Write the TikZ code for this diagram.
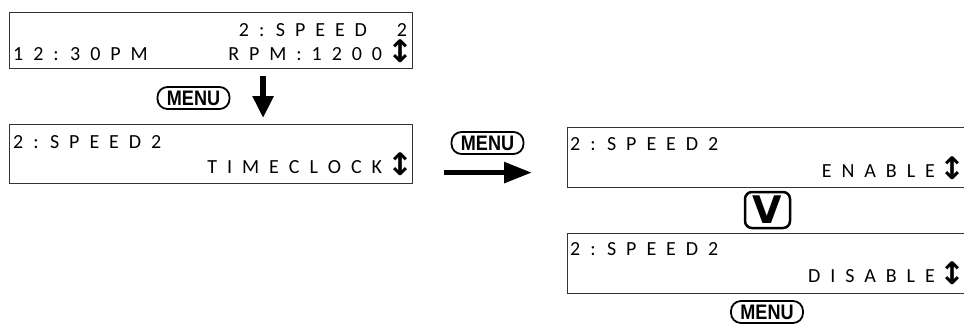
\documentclass[tikz,border=0pt]{standalone}
\usepackage{fontspec}
\usepackage{graphicx}
\usetikzlibrary{arrows.meta,calc}
\newfontfamily\lcdfont[WordSpace=2.2]{Carlito}
\newfontfamily\keyfont{Liberation Sans}
\newfontfamily\symfont{DejaVu Sans}
\newcommand{\updown}{\kern-5pt{\symfont\bfseries\fontsize{31}{31}\selectfont\raisebox{-2pt}{↕}}\kern-4pt}

\begin{document}
\begin{tikzpicture}[x=1pt, y=-1pt,
    lcd/.style={draw=black!80, line width=1.2pt, anchor=north west, inner sep=0pt},
    row/.style={font=\lcdfont\fontsize{20}{24}\selectfont, inner sep=0pt},
    menukey/.style={draw, line width=1.8pt, rounded corners=10pt, minimum width=72pt, minimum height=22pt, inner sep=0pt,
        font=\keyfont\bfseries\fontsize{21}{21}\selectfont},
    bigarrow/.style={line width=5.5pt}]
  \path[use as bounding box, clip] (0,0) rectangle (964,327);
  % the four displays
  \foreach \name/\x/\y/\w/\h in {clock/9/12/403/56, speed/9/124/403/59, en/567/127/420/60, dis/567/233/420/60}
    \node[lcd, minimum width=\w pt, minimum height=\h pt] (\name) at (\x,\y) {};
  \node[row, anchor=base west] (clocka) at ($(clock.north west)+(4,48)$) {1 2 : 3 0 P M};
  \node[row, anchor=base east] (clockb) at ($(clock.north east)+(-6,24)$) {2 : S P E E D \ \ 2};
  \node[row, anchor=base east] (clockc) at ($(clock.north east)+(-4,48)$) {R P M : 1 2 0 0 \updown};
  \node[row, anchor=base west] (speeda) at ($(speed.north west)+(4,24)$) {2 : S P E E D 2};
  \node[row, anchor=base east] (speedb) at ($(speed.north east)+(-4,49)$) {T I M E C L O C K \updown};
  \node[row, anchor=base west] (ena) at ($(en.north west)+(3,23)$) {2 : S P E E D 2};
  \node[row, anchor=base east] (enb) at ($(en.north west)+(395,50)$) {E N A B L E \updown};
  \node[row, anchor=base west] (disa) at ($(dis.north west)+(3,22)$) {2 : S P E E D 2};
  \node[row, anchor=base east] (disb) at ($(dis.north west)+(395,49)$) {D I S A B L E \updown};
  % keys
  \node[menukey] (menua) at (193.5,98) {\scalebox{0.86}[1]{MENU}};
  \node[menukey] (menub) at (487.5,143) {\scalebox{0.86}[1]{MENU}};
  \node[menukey] (menuc) at (767,312) {\scalebox{0.86}[1]{MENU}};
  \node[draw, line width=2.5pt, rounded corners=7pt, minimum width=45pt, minimum height=36pt, inner sep=0pt,
        font=\symfont\bfseries\fontsize{38}{38}\selectfont] (down) at (767.5,210) {V};
  % arrows
  \draw[bigarrow, -{Triangle[length=22pt, width=20pt]}, shorten <=7pt, shorten >=6pt]
    ($(clock.south)+(52,0)$) -- ($(speed.north)+(52,0)$);
  \draw[bigarrow, -{Triangle[length=28pt, width=20pt]}, shorten <=31pt, shorten >=35pt]
    ($(speed.east)+(0,18.5)$) -- ($(en.west)+(0,15)$);
\end{tikzpicture}
\end{document}
